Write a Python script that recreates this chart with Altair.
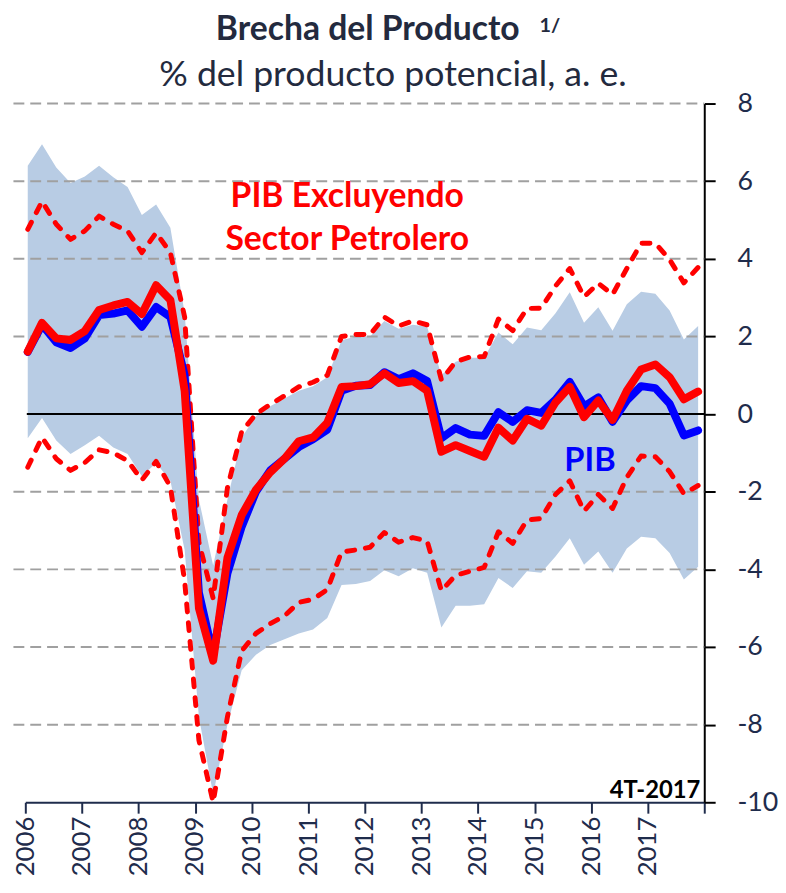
import altair as alt
import pandas as pd

# Quarterly observations 2006T1 .. 2017T4
quarters = [f"{y}T{q}" for y in range(2006, 2018) for q in range(1, 5)]

pib = [1.6, 2.3, 1.85, 1.7, 1.95, 2.55, 2.59, 2.67, 2.25, 2.76, 2.5,
       1.0, -4.6, -6.2,
       -4.1, -2.9, -2.0, -1.45, -1.15, -0.85, -0.65, -0.4,
       0.6, 0.73, 0.75, 1.08, 0.9, 1.05, 0.85,
       -0.62, -0.36, -0.53, -0.56, 0.05, -0.2, 0.1,
       0.03, 0.37, 0.83, 0.2, 0.43, -0.2, 0.35, 0.72, 0.67, 0.27, -0.55, -0.42]

pib_sin_petroleo = [1.61, 2.35, 1.95, 1.91, 2.14, 2.68, 2.8, 2.89, 2.58, 3.32, 2.94,
                    0.6, -5.0, -6.35,
                    -3.7, -2.6, -1.95, -1.5, -1.15, -0.7, -0.6, -0.22,
                    0.7, 0.72, 0.77, 1.05, 0.8, 0.85, 0.6,
                    -0.97, -0.8, -0.95, -1.1, -0.35, -0.68, -0.12,
                    -0.3, 0.3, 0.7, -0.08, 0.35, -0.15, 0.6, 1.15, 1.28, 0.95, 0.38, 0.58]

banda_sp_sup = [4.76, 5.48, 4.89, 4.5, 4.72, 5.1, 4.89, 4.72, 4.16, 4.67, 4.16,
                2.5, -3.3, -4.75,
                -1.9, -0.45, 0.0, 0.25, 0.47, 0.7, 0.82, 1.0,
                2.0, 2.05, 2.05, 2.5, 2.27, 2.4, 2.3,
                0.88, 1.35, 1.47, 1.48, 2.45, 2.15, 2.72,
                2.73, 3.3, 3.75, 3.02, 3.37, 3.08, 3.75, 4.4, 4.4, 3.98, 3.38, 3.78]

banda_sp_inf = [-1.37, -0.6, -1.15, -1.45, -1.25, -0.92, -1.0, -1.2, -1.7, -1.22, -1.87,
                -4.3, -8.4, -10.0,
                -7.8, -6.1, -5.65, -5.4, -5.2, -4.85, -4.77, -4.52,
                -3.55, -3.5, -3.43, -3.05, -3.3, -3.18, -3.27,
                -4.55, -4.15, -4.05, -3.95, -3.03, -3.33, -2.73,
                -2.69, -2.07, -1.72, -2.5, -2.07, -2.43, -1.63, -1.08, -1.1, -1.48, -2.05, -1.84]

banda_pib_sup = [6.4, 6.95, 6.35, 5.95, 6.12, 6.4, 6.1, 5.85, 5.13, 5.4, 4.8,
                 2.6, -2.2, -3.9,
                 -2.2, -0.6, -0.05, 0.2, 0.4, 0.6, 0.72, 0.95,
                 1.9, 2.0, 2.0, 2.4, 2.2, 2.3, 2.25,
                 1.0, 1.35, 1.45, 1.45, 2.1, 1.8, 2.23,
                 2.16, 2.6, 3.14, 2.35, 2.75, 2.15, 2.83, 3.15, 3.1, 2.67, 1.92, 2.27]

banda_pib_inf = [-0.62, -0.1, -0.68, -1.03, -0.8, -0.56, -0.86, -1.03, -1.6, -1.26, -1.72,
                 -3.5, -7.8, -9.8,
                 -8.0, -6.6, -6.2, -5.95, -5.8, -5.65, -5.55, -5.25,
                 -4.4, -4.38, -4.3, -4.02, -4.18, -3.97, -4.09,
                 -5.5, -4.94, -4.94, -4.9, -4.22, -4.48, -4.05,
                 -4.09, -3.67, -3.2, -3.88, -3.54, -4.09, -3.46, -3.16, -3.2, -3.58, -4.26, -3.93]

grid_values = [8, 6, 4, 2, -2, -4, -6, -8]
year_ticks = list(range(2006, 2019))
y_ticks = list(range(-10, 9, 2))

# position of each quarter on the year axis (as placed in the original chart)
pos = [2006 + (i + 0.17) * 12 / 47.6 for i in range(len(quarters))]

df = pd.DataFrame({
    "trimestre": quarters, "pos": pos,
    "pib": pib, "pib_sp": pib_sin_petroleo,
    "sp_sup": banda_sp_sup, "sp_inf": banda_sp_inf,
    "b_sup": banda_pib_sup, "b_inf": banda_pib_inf,
})

FONT = "Lato"
NAVY = "#1F2C4C"
W, H = 686, 706

xscale = alt.Scale(domain=[2006, 2018], nice=False, zero=False)
yscale = alt.Scale(domain=[-10, 8], nice=False, zero=False)

xaxis = alt.Axis(values=year_ticks, labelExpr="datum.value == 2018 ? '' : '' + datum.value",
                 labelAngle=270, labelFontSize=26, labelFont=FONT, labelColor=NAVY,
                 labelPadding=3, labelFlush=False, labelOverlap=False,
                 domainColor=NAVY, domainWidth=2, tickColor=NAVY, tickWidth=2, tickSize=11,
                 grid=False, title=None)
yaxis = alt.Axis(orient="right", values=y_ticks,
                 labelExpr="datum.value < 0 ? '-' + abs(datum.value) : '' + datum.value",
                 labelFontSize=27, labelFont=FONT,
                 labelColor=NAVY, labelPadding=22, labelFlush=False,
                 domainColor="black", domainWidth=2, tickColor="black", tickWidth=2,
                 tickSize=11, grid=False, title=None)

X = alt.X("pos:Q", scale=xscale, axis=xaxis)

base = alt.Chart(df)

band = base.mark_area(color="#B8CCE4").encode(
    x=X, y=alt.Y("b_inf:Q", scale=yscale, axis=yaxis), y2="b_sup:Q")

grid = alt.Chart(pd.DataFrame({"v": grid_values})).mark_rule(
    color="#A0A0A0", strokeWidth=2, strokeDash=[11, 6]).encode(
    y=alt.Y("v:Q", scale=yscale, axis=yaxis), x=alt.value(-12), x2=alt.value(W))

zero = alt.Chart(pd.DataFrame({"v": [0]})).mark_rule(color="black", strokeWidth=2).encode(
    y=alt.Y("v:Q", scale=yscale, axis=yaxis), x=alt.value(1.5), x2=alt.value(W))

def dashed(field):
    return base.mark_line(color="#FF0000", strokeWidth=5, strokeDash=[8, 11],
                          strokeCap="round", strokeJoin="round").encode(
        x=X, y=alt.Y(f"{field}:Q", scale=yscale, axis=yaxis))

up = dashed("sp_sup")
lo = dashed("sp_inf")

blue = base.mark_line(color="#0000FF", strokeWidth=8, strokeCap="round", strokeJoin="round").encode(
    x=X, y=alt.Y("pib:Q", scale=yscale, axis=yaxis))
red = base.mark_line(color="#FF0000", strokeWidth=8, strokeCap="round", strokeJoin="round").encode(
    x=X, y=alt.Y("pib_sp:Q", scale=yscale, axis=yaxis))

def label(text, x, y, color, size, align="center", baseline="middle", weight="bold"):
    d = pd.DataFrame({"t": [text], "x": [x], "y": [y]})
    return alt.Chart(d).mark_text(font=FONT, fontSize=size, fontWeight=weight, color=color,
                                  align=align, baseline=baseline).encode(
        text="t:N", x=alt.X("x:Q", scale=xscale, axis=xaxis),
        y=alt.Y("y:Q", scale=yscale, axis=yaxis))

ann1 = label("PIB Excluyendo", 2011.69, 5.6, "#FF0000", 34)
ann2 = label("Sector Petrolero", 2011.69, 4.47, "#FF0000", 34)
ann3 = label("PIB", 2015.98, -1.2, "#0000FF", 33)
ann4 = label("4T-2017", 2017.93, -9.88, "black", 24, align="right", baseline="alphabetic")

def px_text(text, x, y, size, weight, align="center"):
    return alt.Chart(pd.DataFrame({"t": [text]})).mark_text(
        font=FONT, fontSize=size, fontWeight=weight, color="#232A3E",
        align=align, baseline="alphabetic").encode(
        text="t:N", x=alt.value(x), y=alt.value(y))

title = px_text("Brecha del Producto", 346, -64, 34, "bold")
sup = px_text("1/", 519.5, -72, 20, "bold", align="left")
subtitle = px_text("% del producto potencial, a. e.", 371.5, -18, 36, "normal")

chart = alt.layer(band, grid, zero, up, lo, blue, red, ann1, ann2, ann3, ann4,
                  title, sup, subtitle).properties(
    width=W, height=H,
    autosize=alt.AutoSizeParams(type="none"),
    padding={"left": 17.5, "top": 92, "right": 74.5, "bottom": 75},
).configure_view(stroke=None)

chart.save("out.html", embed_options={"renderer": "svg", "actions": False})
